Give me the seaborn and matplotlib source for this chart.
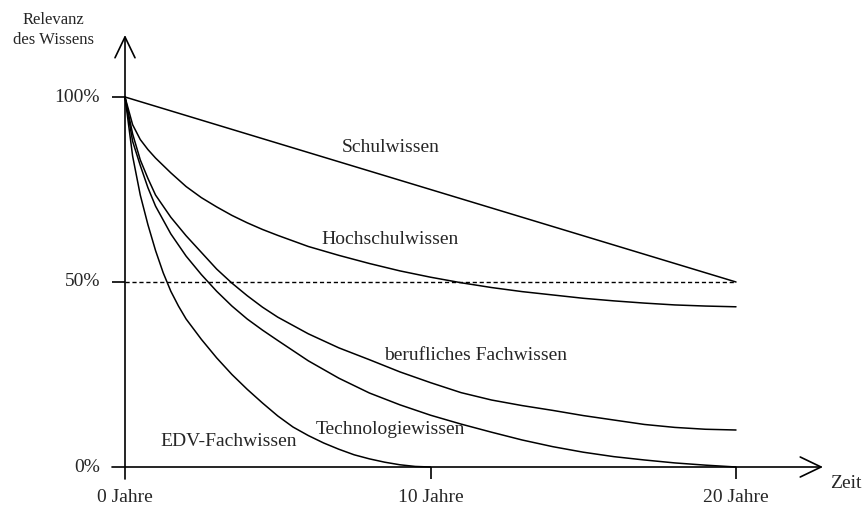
import pandas as pd
import matplotlib
matplotlib.use('Agg')
import matplotlib.pyplot as plt
import seaborn as sns

# --- Daten ---
jahre = [0, 0.25, 0.5, 0.75, 1, 1.5, 2, 2.5, 3, 3.5, 4, 4.5, 5,
         6, 7, 8, 9, 10, 11, 12, 13, 14, 15, 16, 17, 18, 19, 20]

schul_jahre = [0, 20]
schulwissen = [100, 50]

hochschulwissen = [100, 92.5, 88.5, 85.8, 83.5, 79.5, 75.8, 72.8, 70.3, 68, 66, 64.2, 62.6,
                   59.6, 57.2, 55, 53, 51.3, 49.8, 48.5, 47.4, 46.5, 45.6, 44.9, 44.3, 43.8, 43.5, 43.3]
beruf_fachwissen = [100, 90, 83, 78, 73.5, 67.5, 62.5, 58, 53.5, 49.7, 46.3, 43.2, 40.5,
                    36, 32.2, 29, 25.7, 22.8, 20.1, 18.1, 16.6, 15.3, 13.9, 12.7, 11.5, 10.7, 10.2, 10]
technologiewissen = [100, 88, 81.5, 75.5, 70.5, 63, 57, 52, 47.5, 43.5, 40, 37, 34.2,
                     28.7, 24, 20, 16.8, 14, 11.6, 9.4, 7.3, 5.5, 4, 2.8, 1.9, 1.1, 0.5, 0]

edv_jahre = [0, 0.25, 0.5, 0.75, 1, 1.25, 1.5, 1.75, 2, 2.5, 3, 3.5, 4, 4.5, 5,
             5.5, 6, 6.5, 7, 7.5, 8, 8.5, 9, 9.5, 10]
edv_fachwissen = [100, 84, 73.5, 65.5, 58.5, 52.5, 47.5, 43.5, 40, 34.5, 29.5, 25, 21, 17.3, 13.8,
                  10.8, 8.5, 6.5, 4.8, 3.3, 2.2, 1.3, 0.6, 0.15, 0]

x_ticks = [0, 10, 20]
x_ticklabels = ['0 Jahre', '10 Jahre', '20 Jahre']
y_ticks = [0, 50, 100]
y_ticklabels = ['0%', '50%', '100%']

# long table for seaborn
frames = [
    pd.DataFrame({'Jahr': schul_jahre, 'Relevanz': schulwissen, 'Wissen': 'Schulwissen'}),
    pd.DataFrame({'Jahr': jahre, 'Relevanz': hochschulwissen, 'Wissen': 'Hochschulwissen'}),
    pd.DataFrame({'Jahr': jahre, 'Relevanz': beruf_fachwissen, 'Wissen': 'berufliches Fachwissen'}),
    pd.DataFrame({'Jahr': jahre, 'Relevanz': technologiewissen, 'Wissen': 'Technologiewissen'}),
    pd.DataFrame({'Jahr': edv_jahre, 'Relevanz': edv_fachwissen, 'Wissen': 'EDV-Fachwissen'}),
]
df = pd.concat(frames, ignore_index=True)

sns.set_theme(style='white')
plt.rcParams['font.family'] = ['Liberation Serif', 'DejaVu Serif']

fig = plt.figure(figsize=(8.66, 5.09), dpi=100)
ax = fig.add_axes([0, 0, 1, 1])

# pixel -> data mapping: x 0..20 -> px 125..736, y 0..100 -> px 467..97
px_per_year = 30.55
px_per_pct = 3.70
ax.set_xlim(-125 / px_per_year, (866 - 125) / px_per_year)
ax.set_ylim((467 - 509) / px_per_pct, 467 / px_per_pct)
ax.axis('off')

sns.lineplot(data=df, x='Jahr', y='Relevanz', units='Wissen', estimator=None,
             color='black', lw=1.1, sort=False, ax=ax, legend=False)

# 50%-Linie gestrichelt
ax.plot([0, 20], [50, 50], color='black', lw=1.0, ls=(0, (3, 2)))

# Achsen mit Pfeilen
lw_ax = 1.2
arrow = dict(arrowstyle='->,head_length=0.75,head_width=0.36', lw=lw_ax,
             color='black', mutation_scale=20, shrinkA=0, shrinkB=0)
x0 = -13 / px_per_year
y0 = -12 / px_per_pct
ax.annotate('', xy=(0, (467 - 35) / px_per_pct), xytext=(0, y0), arrowprops=arrow)
ax.annotate('', xy=((823 - 125) / px_per_year, 0), xytext=(x0, 0), arrowprops=arrow)

# Ticks
for t in y_ticks[1:]:
    ax.plot([x0, 0], [t, t], color='black', lw=lw_ax, solid_capstyle='butt')
for t in x_ticks[1:]:
    ax.plot([t, t], [y0, 0], color='black', lw=lw_ax, solid_capstyle='butt')

fs = 14
for t, lab in zip(y_ticks, y_ticklabels):
    ax.text(-25 / px_per_year, t, lab, ha='right', va='center', fontsize=fs)
for t, lab in zip(x_ticks, x_ticklabels):
    ax.text(t, -31 / px_per_pct, lab, ha='center', va='center', fontsize=fs)

ax.text((846 - 125) / px_per_year, -17 / px_per_pct, 'Zeit', ha='center', va='center', fontsize=fs)
ax.text((53 - 125) / px_per_year, (467 - 30) / px_per_pct, 'Relevanz\ndes Wissens',
        ha='center', va='center', fontsize=12, linespacing=1.3)

# Kurvenbeschriftungen
labels = {
    'Schulwissen': (391, 148),
    'Hochschulwissen': (390, 239),
    'berufliches Fachwissen': (476, 356),
    'Technologiewissen': (390, 430),
    'EDV-Fachwissen': (229, 442),
}
for name, (px, py) in labels.items():
    ax.text((px - 125) / px_per_year, (467 - py) / px_per_pct, name,
            ha='center', va='center', fontsize=fs)

fig.savefig('out.png', dpi=100, facecolor='white')
